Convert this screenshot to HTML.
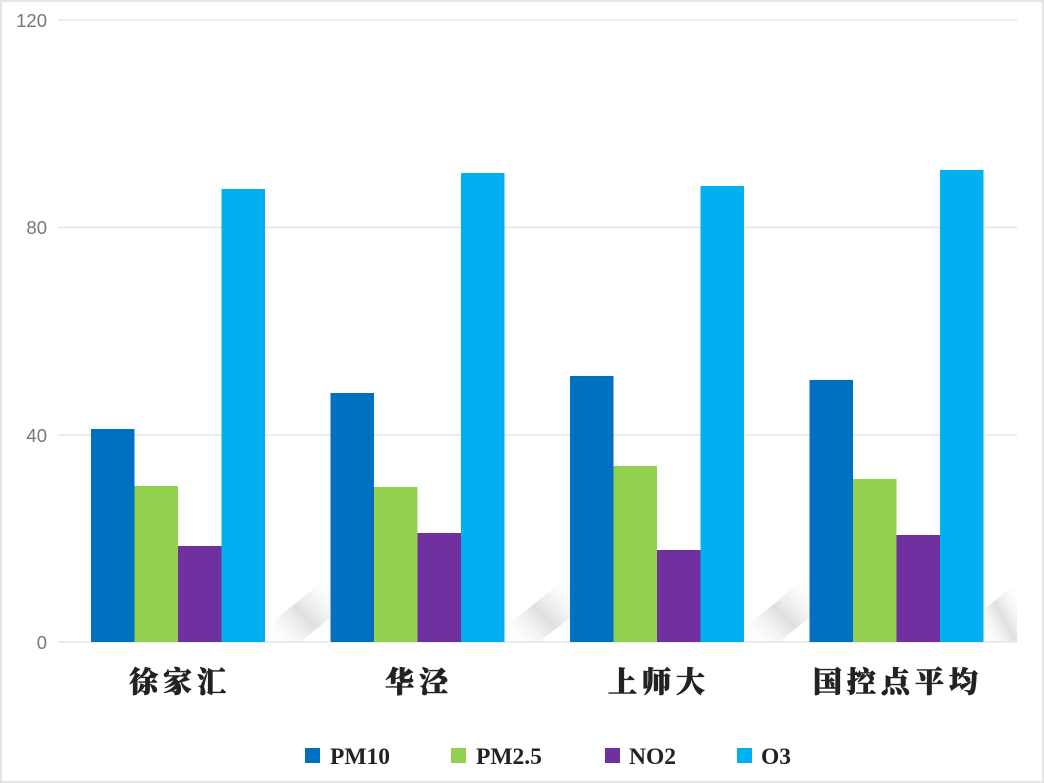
<!DOCTYPE html>
<html><head><meta charset="utf-8"><style>
html,body{margin:0;padding:0;background:#fff;}
svg{display:block}
</style></head><body>
<svg width="1044" height="783" xmlns="http://www.w3.org/2000/svg">
<rect x="1" y="1" width="1042" height="781" fill="#fff" stroke="#e4e4e4" stroke-width="2"/>
<defs>
<linearGradient id="sh" x1="0" y1="1" x2="1" y2="0">
<stop offset="0" stop-color="#fff" stop-opacity="0"/>
<stop offset="0.5" stop-color="#dcdcdc"/>
<stop offset="1" stop-color="#fff" stop-opacity="0"/>
</linearGradient>
</defs>
<g fill="url(#sh)" opacity="0.9">
<polygon points="265,642 300,642 330,618 330,575 265,628"/>
<polygon points="504,642 539,642 570,618 570,575 504,628"/>
<polygon points="744,642 779,642 809,618 809,575 744,628"/>
<polygon points="983,642 1017,642 1017,583 983,610"/>
</g>
<g stroke="#e6e6e6" stroke-width="1.5">
<line x1="58" y1="20" x2="1017" y2="20"/>
<line x1="58" y1="227.5" x2="1017" y2="227.5"/>
<line x1="58" y1="435" x2="1017" y2="435"/>
<line x1="58" y1="642" x2="1017" y2="642"/>
</g>
<g font-family="Liberation Sans, sans-serif" font-size="18.5" fill="#777" text-anchor="end">
<text x="47" y="27">120</text>
<text x="47" y="234">80</text>
<text x="47" y="442">40</text>
<text x="47" y="649">0</text>
</g>
<g>
<rect x="91" y="429" width="43.5" height="213" fill="#0070c0"/>
<rect x="134.5" y="486" width="43.5" height="156" fill="#92d050"/>
<rect x="178" y="546" width="43.5" height="96" fill="#7030a0"/>
<rect x="221.5" y="189" width="43.5" height="453" fill="#00b0f0"/>

<rect x="330.5" y="393" width="43.5" height="249" fill="#0070c0"/>
<rect x="374" y="487" width="43.5" height="155" fill="#92d050"/>
<rect x="417.5" y="533" width="43.5" height="109" fill="#7030a0"/>
<rect x="461" y="173" width="43.5" height="469" fill="#00b0f0"/>

<rect x="570" y="376" width="43.5" height="266" fill="#0070c0"/>
<rect x="613.5" y="466" width="43.5" height="176" fill="#92d050"/>
<rect x="657" y="550" width="43.5" height="92" fill="#7030a0"/>
<rect x="700.5" y="186" width="43.5" height="456" fill="#00b0f0"/>

<rect x="809.5" y="380" width="43.5" height="262" fill="#0070c0"/>
<rect x="853" y="479" width="43.5" height="163" fill="#92d050"/>
<rect x="896.5" y="535" width="43.5" height="107" fill="#7030a0"/>
<rect x="940" y="170" width="43.5" height="472" fill="#00b0f0"/>
</g>
<g font-family="Liberation Serif, 'Noto Serif CJK SC', serif" font-size="29" font-weight="900" fill="#222" text-anchor="middle" letter-spacing="5" stroke="#222" stroke-width="0.6">
<text x="180" y="692">徐家汇</text>
<text x="419" y="692">华泾</text>
<text x="659" y="692">上师大</text>
<text x="898" y="692">国控点平均</text>
</g>
<g font-family="Liberation Serif, serif" font-size="23.5" font-weight="bold" fill="#222">
<rect x="305" y="748" width="15" height="15" fill="#0070c0"/><text x="330" y="764">PM10</text>
<rect x="451" y="748" width="15" height="15" fill="#92d050"/><text x="476" y="764">PM2.5</text>
<rect x="605" y="748" width="15" height="15" fill="#7030a0"/><text x="629" y="764">NO2</text>
<rect x="737" y="748" width="15" height="15" fill="#00b0f0"/><text x="761" y="764">O3</text>
</g>
</svg>
</body></html>
